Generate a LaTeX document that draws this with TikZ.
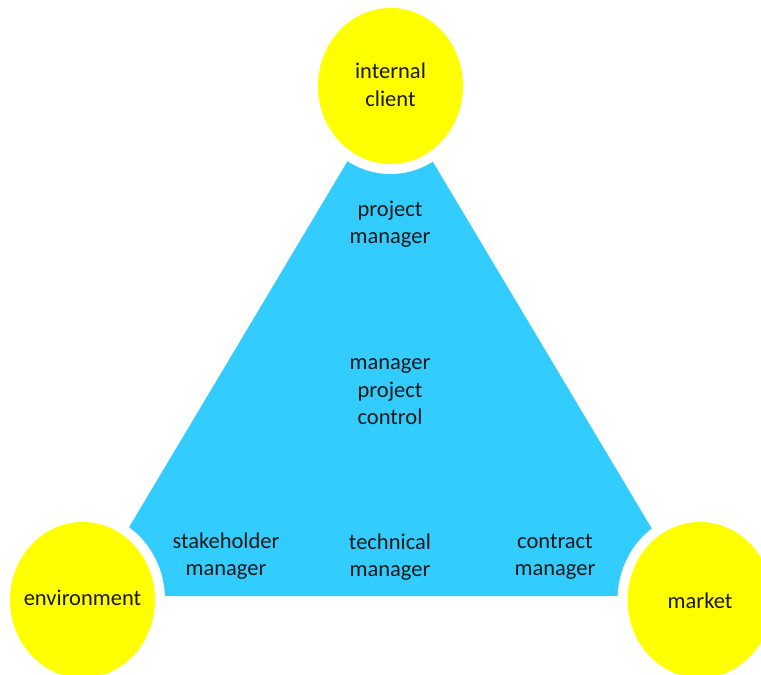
\documentclass[tikz,border=0pt]{standalone}
\usepackage{fontspec}
\setmainfont{Carlito}
\usetikzlibrary{shapes.geometric}
\definecolor{triblue}{RGB}{51,204,255}
\definecolor{hubyellow}{RGB}{255,255,0}
\definecolor{ink}{RGB}{25,25,25}
\begin{document}
\begin{tikzpicture}[x=1pt,y=-1pt,
  hub/.style={ellipse, inner sep=0pt, minimum width=145pt, minimum height=156pt,
    fill=hubyellow, preaction={draw=white, line width=20pt}},
  lbl/.style={align=center, inner sep=0pt, text=ink,
    font=\fontsize{22.5}{27.5}\selectfont},
  tri/.style={fill=triblue}]
  % canvas
  \useasboundingbox (0,0) rectangle (761,675);
  \fill[white] (0,0) rectangle (761,675);
  \clip (0,0) rectangle (761,675);

  % triangle corners
  \coordinate (apex) at (390,90);
  \coordinate (left) at (88,596);
  \coordinate (right) at (692,596);
  \fill[tri] (apex) -- (left) -- (right) -- cycle;

  % roles inside the triangle
  \node[lbl] (pm)  at (390,224) {project\\manager};
  \node[lbl] (mpc) at (390,392) {manager\\project\\control};
  \node[lbl] (sm)  at (226,556) {stakeholder\\manager};
  \node[lbl] (tm)  at (390,557) {technical\\manager};
  \node[lbl] (cm)  at (555,557) {contract\\manager};

  % corner circles with a white halo
  \node[hub] (client) at (390.5,86) {};
  \node[hub] (env)    at (82.5,600) {};
  \node[hub] (market) at (700,600) {};
  \node[lbl] at (390.5,85) {internal\\client};
  \node[lbl] at (82.5,598) {environment};
  \node[lbl] at (700,601) {market};
\end{tikzpicture}
\end{document}
